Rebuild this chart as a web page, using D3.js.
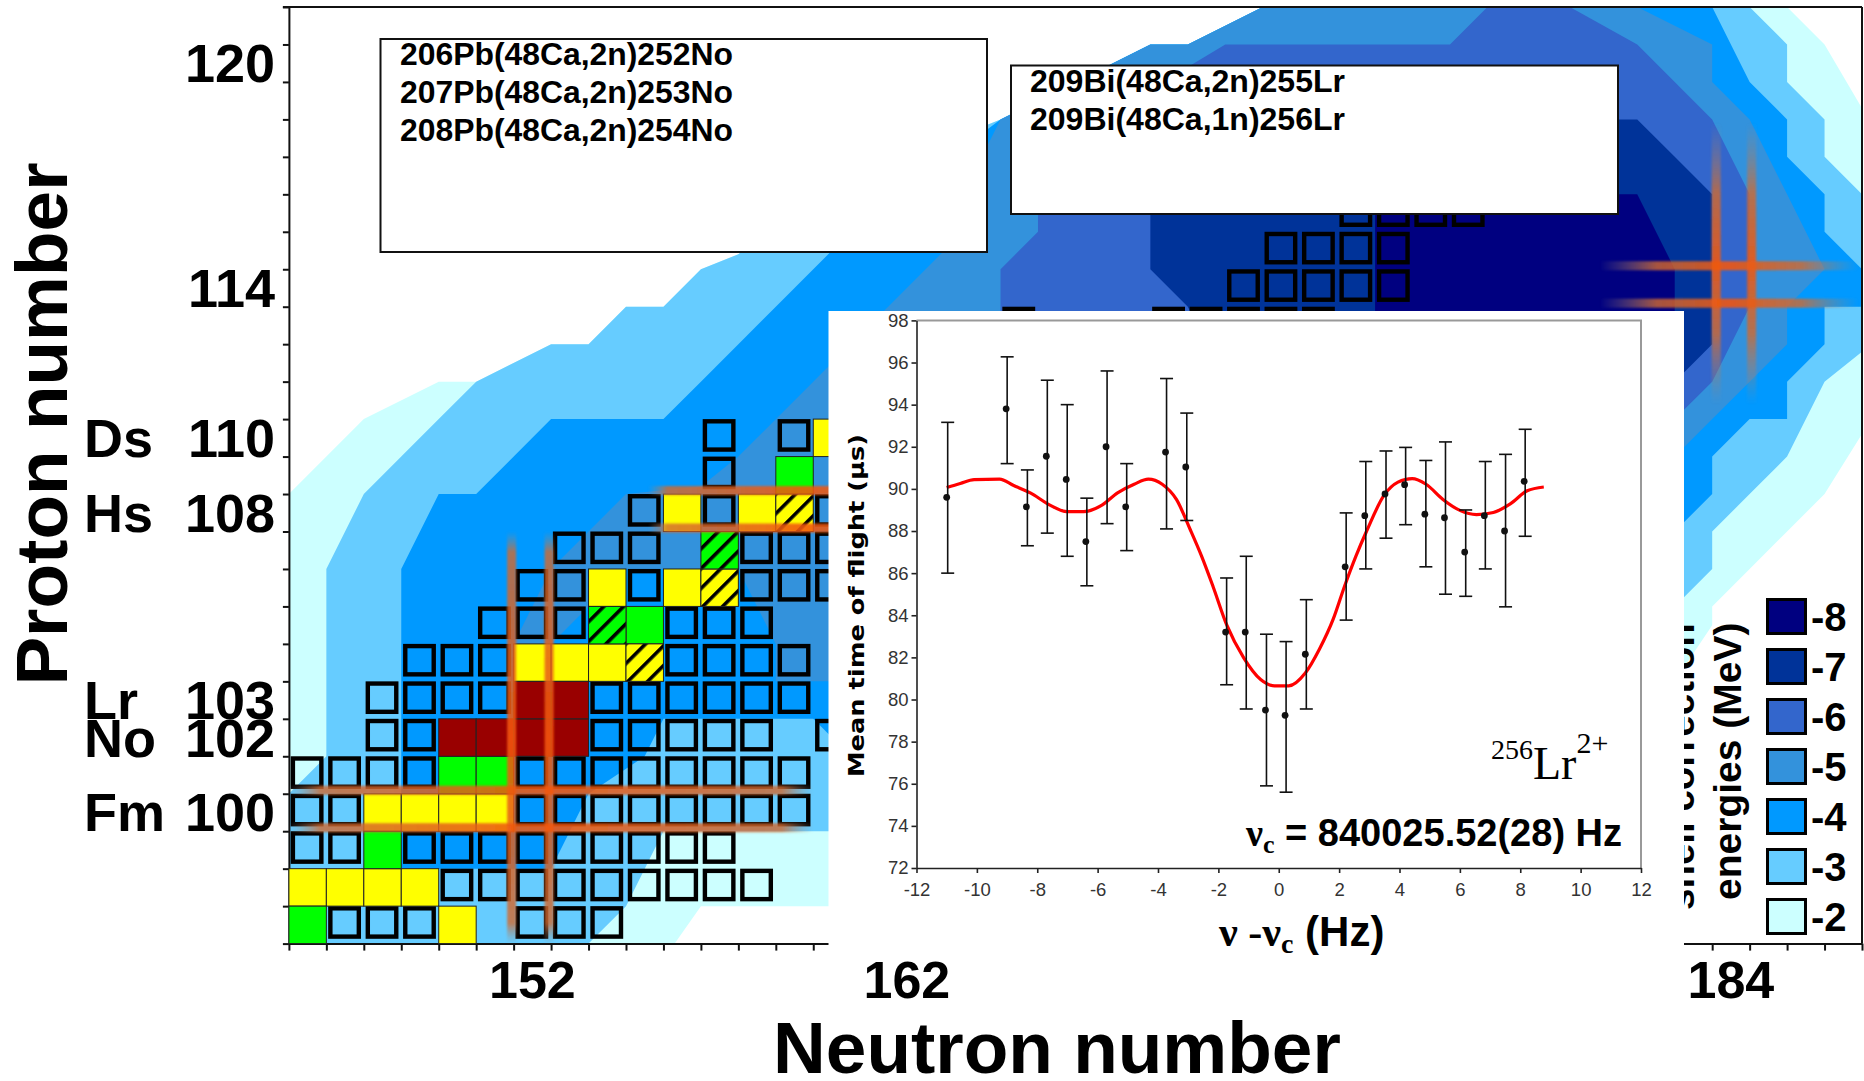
<!DOCTYPE html>
<html>
<head>
<meta charset="utf-8">
<script src="https://cdn.jsdelivr.net/npm/d3@7"></script>
<style>
  body { margin: 0; background: #fff; }
  svg { display: block; }
  text { font-family: "Liberation Sans", Arial, sans-serif; }
</style>
</head>
<body>
<svg width="1864" height="1081"></svg>
<script>
// shell correction contours, [neutron, proton]
const level2 = [[146,109],[147,110],[148,111],[150,112],[151,112],[153,113],[154,113],[155,114],[156,114],[157,115],[158,115.4],[160,117],[165,119],[167,120],[169,121],[170,121],[172,122],[186,122],[187,121],[188,119.3],[188,110.6],[187,109],[186,108],[185,107],[184,106],[184,105.5],[183,104],[161,98],[157,98],[156.3,97],[146,97]]
const level3 = [[146,101],[147,102],[147,107],[148,109],[149,110],[150,111],[151,112],[153,113],[154,113],[155,114],[156,114],[157,115],[158,115.4],[160,117],[165,119],[167,120],[169,121],[170,121],[172,122],[185,122],[186,121],[186,120],[187,119],[187,118],[188,117],[188,112.8],[187,112],[186,110],[185,109],[184,108],[184,107],[183,106],[161,100],[156,100],[155,98],[154,97],[146,97]]
const level4 = [[149,99],[149,107],[150,109],[151,109],[153,111],[156,111],[157,112],[158,113],[159,114],[160,115],[161,116],[165,119],[167,120],[169,121],[170,121],[172,122],[184,122],[185,120],[186,119],[186,118],[187,117],[187,116],[188,115],[188,114],[187,114],[187,113],[186,112],[186,111],[185,111],[184,110],[184,109],[183,108],[161,102],[160,103],[156,103],[155.5,102],[154,101],[153,99]]
const level5 = [[152,105],[153,105],[154,106],[155,107],[158,107],[159,105],[159,104],[161,104],[183,110],[184,111],[185,112],[186,113],[186,114],[187,115],[186,117],[185,119],[184,120],[184,121],[182,122],[172,122],[170,121],[169,121],[167,120],[165,119],[164.5,118],[164,116],[162,114],[160,112],[158,110],[157,109.2],[155,109],[153,107]]
const level6 = [[165,114],[165,115],[166,116],[166,117],[170,120.4],[171,121],[177,121],[178,122],[180.2,122],[182,121],[183,120],[184,119],[185,117],[185,114],[184,112],[183,111],[165,108]]
const level7 = [[169,115],[169,118],[170,119],[182,119],[183,118],[184,117],[184,113],[183,112],[171,112],[170,114]]
const level8 = [[175,117],[182,117],[183,115],[183,112],[175,112]]
const levelPolys = [level2, level3, level4, level5, level6, level7, level8]
const levelColors = ['#ccffff', '#66ccff', '#0099ff', '#3392dc', '#3366cc', '#003399', '#000080']
const legendLabels = ['-2', '-3', '-4', '-5', '-6', '-7', '-8']

// isotopes, [proton, [neutrons]]
const openRows = [
  [97, [147,148,149,152,153,154]],
  [98, [150,151,152,153,154,155,156,157,158]],
  [99, [146,147,149,150,151,152,153,154,155,156,157]],
  [100, [146,147,152,153,154,155,156,157,158,159]],
  [101, [146,147,148,149,152,153,154,155,156,157,158,159]],
  [102, [148,149,154,155,156,157,158,160]],
  [103, [148,149,150,151,154,155,156,157,158,159]],
  [104, [149,150,151,156,157,158,159]],
  [105, [151,152,153,156,157,158]],
  [106, [152,153,155,158,159,160]],
  [107, [153,154,155,158,159,160]],
  [108, [155,157,160]],
  [109, [157]],
  [110, [157,159]],
  [113, [165,169,170,171,172,173]],
  [114, [171,172,173,174,175]],
  [115, [172,173,174,175]],
  [116, [174,175,176,177]]
]
const yellowCells = [[146,98],[147,98],[148,98],[149,98],[150,97],[148,100],[149,100],[150,100],[151,100],[152,104],[153,104],[154,104],[154,106],[156,106],[156,108],[158,108],[160,110]]
const greenCells = [[146,97],[148,99],[150,101],[151,101],[155,105],[159,109]]
const redCells = [[150,102],[151,102],[152,102],[153,102],[152,103],[153,103]]
const yellowHatch = [[155,104],[157,106],[159,108]]
const greenHatch = [[154,105],[157,107]]

const protonLabels = [120, 114, 110, 108, 103, 102, 100]
const elementLabels = [['Ds', 110], ['Hs', 108], ['Lr', 103], ['No', 102], ['Fm', 100]]
const neutronLabels = [152, 162, 184]
const reactionsA = ['206Pb(48Ca,2n)252No', '207Pb(48Ca,2n)253No', '208Pb(48Ca,2n)254No']
const reactionsB = ['209Bi(48Ca,2n)255Lr', '209Bi(48Ca,1n)256Lr']

// inset: resonance of 256Lr2+
const detuning = [-11.0,-9.03,-8.36,-7.7,-7.04,-6.39,-5.72,-5.07,-3.75,-3.08,-1.76,-1.11,-0.44,0.21,0.88,2.2,2.85,3.52,4.17,4.84,5.49,6.16,6.81,7.48,8.13]
const tof = [89.6,93.8,89.15,91.55,90.45,87.5,92.0,89.15,91.75,91.04,83.2,83.2,79.5,79.25,82.15,86.3,88.73,89.76,90.2,88.8,88.63,87.0,88.73,88.0,90.36]
const tofHigh = [93.16,96.27,90.9,95.16,94.0,89.56,95.6,91.2,95.24,93.6,85.77,86.8,83.1,82.75,84.74,88.86,91.3,91.8,91.97,91.35,92.23,89.0,91.3,91.64,92.83]
const tofLow = [86.0,91.2,87.3,87.9,86.8,85.4,88.35,87.07,88.1,88.5,80.7,79.55,75.9,75.6,79.55,83.77,86.2,87.66,88.3,86.3,85.0,84.9,86.2,84.4,87.75]
const fitX = [-11.0,-10.55,-10.09,-9.25,-8.78,-8.23,-7.58,-7.02,-6.46,-5.9,-5.34,-4.79,-4.32,-3.86,-3.39,-2.93,-2.56,-2.18,-1.72,-1.16,-0.6,-0.14,0.33,0.88,1.35,1.81,2.18,2.56,2.93,3.49,3.95,4.42,4.88,5.44,6.0,6.55,7.11,7.67,8.23,8.78]
const fitY = [90.07,90.26,90.44,90.46,90.16,89.81,89.23,88.92,88.92,89.19,89.81,90.22,90.46,90.22,89.5,88.06,86.82,85.38,83.53,81.98,80.95,80.65,80.65,81.26,82.4,83.84,85.38,86.82,88.06,89.7,90.32,90.49,90.22,89.5,88.98,88.78,88.88,89.29,89.91,90.09]

let svg = d3.select('svg')

const x = d3.scaleLinear().domain([146, 188]).range([288.9, 1862])
const y = d3.scaleLinear().domain([97, 122]).range([943.6, 7])

// Gradients and hatches
const defs = svg.append('defs')
const fade = (id, vertical, edge) => {
  const g = defs.append('linearGradient').attr('id', id)
    .attr('x1', 0).attr('y1', 0).attr('x2', vertical ? 0 : 1).attr('y2', vertical ? 1 : 0)
  const stops = [[0, '#9a8a80', 0], [edge, '#d06a30', 0.8], [0.5, '#f4560a', 0.88], [1 - edge, '#d06a30', 0.8], [1, '#9a8a80', 0]]
  stops.forEach(s => g.append('stop').attr('offset', s[0]).attr('stop-color', s[1]).attr('stop-opacity', s[2]))
}
fade('fadeH', false, 0.06)
fade('fadeV', true, 0.05)
fade('fadeHShort', false, 0.22)
fade('fadeVShort', true, 0.25)
defs.append('filter').attr('id', 'soft').append('feGaussianBlur').attr('stdDeviation', 0.9)

const hatch = (id, color) => {
  const p = defs.append('pattern').attr('id', id).attr('patternUnits', 'userSpaceOnUse')
    .attr('width', 14).attr('height', 14).attr('patternTransform', 'rotate(45)')
  p.append('rect').attr('width', 14).attr('height', 14).attr('fill', color)
  p.append('rect').attr('width', 3.6).attr('height', 14).attr('fill', '#000')
}
hatch('hatchYellow', '#ffff00')
hatch('hatchGreen', '#00ff00')

// Contours
const polyLine = d3.line().x(d => x(d[0])).y(d => y(d[1]))
svg.append('g').selectAll('path').data(levelPolys).enter().append('path')
  .attr('d', d => polyLine(d) + 'Z')
  .attr('fill', (d, i) => levelColors[i])

// Outer axes
const xAxis = d3.axisBottom(x).tickValues(d3.range(146, 189)).tickFormat('').tickSize(7).tickSizeOuter(0)
const yAxis = d3.axisLeft(y).tickValues(d3.range(97, 123)).tickFormat('').tickSize(6).tickSizeOuter(0)
const gx = svg.append('g').attr('transform', `translate(0,${y(97)})`).call(xAxis)
const gy = svg.append('g').attr('transform', `translate(${x(146)},0)`).call(yAxis)
svg.selectAll('.domain, .tick line').attr('stroke', '#111').attr('stroke-width', 2)
svg.append('line').attr('x1', x(146) - 6).attr('x2', x(188)).attr('y1', y(122)).attr('y2', y(122)).attr('stroke', '#111').attr('stroke-width', 2)
svg.append('line').attr('x1', x(188)).attr('x2', x(188)).attr('y1', y(122)).attr('y2', y(97)).attr('stroke', '#111').attr('stroke-width', 2)

// Isotope cells
const cellW = x(147) - x(146)
const cellH = y(97) - y(98)
const openCells = openRows.flatMap(r => r[1].map(n => [n, r[0]]))
svg.append('g').selectAll('rect').data(openCells).enter().append('rect')
  .attr('x', d => x(d[0]) + 4)
  .attr('y', d => y(d[1] + 1) + 2.2)
  .attr('width', cellW - 9)
  .attr('height', cellH - 9.2)
  .attr('fill', 'none')
  .attr('stroke', '#000')
  .attr('stroke-width', 4.4)

const filled = [
  [yellowCells, '#ffff00'],
  [greenCells, '#00ff00'],
  [redCells, '#990000'],
  [yellowHatch, 'url(#hatchYellow)'],
  [greenHatch, 'url(#hatchGreen)']
]
filled.forEach(f => {
  svg.append('g').selectAll('rect').data(f[0]).enter().append('rect')
    .attr('x', d => x(d[0]))
    .attr('y', d => y(d[1] + 1))
    .attr('width', cellW)
    .attr('height', cellH)
    .attr('fill', f[1])
    .attr('stroke', '#222')
    .attr('stroke-width', 1)
})

// Magic number bands
const magic = svg.append('g').attr('filter', 'url(#soft)')
const bandV = (n, z0, z1, dx, paint) => magic.append('rect')
  .attr('x', x(n) + dx - 4.5).attr('width', 9)
  .attr('y', y(z1)).attr('height', y(z0) - y(z1))
  .attr('fill', paint)
const bandH = (z, n0, n1, paint) => magic.append('rect')
  .attr('x', x(n0)).attr('width', x(n1) - x(n0))
  .attr('y', y(z) - 3.5 - 4.5).attr('height', 9)
  .attr('fill', paint)
bandV(152, 97, 108, -2, 'url(#fadeV)')
bandV(153, 97, 108, -2, 'url(#fadeV)')
bandH(101, 146, 160, 'url(#fadeH)')
bandH(100, 146, 160, 'url(#fadeH)')
bandH(109, 155.6, 164, 'url(#fadeH)')
bandH(108, 155.6, 164, 'url(#fadeH)')
bandV(184, 111.4, 118.9, 4, 'url(#fadeVShort)')
bandV(185, 111.4, 118.9, 2, 'url(#fadeVShort)')
bandH(115, 181, 187.9, 'url(#fadeHShort)')
bandH(114, 181, 187.9, 'url(#fadeHShort)')

// Reaction boxes
const reactionBox = (bx, by, bw, bh, lines, tx, ty, tw) => {
  svg.append('rect').attr('x', bx).attr('y', by).attr('width', bw).attr('height', bh)
    .attr('fill', '#fff').attr('stroke', '#111').attr('stroke-width', 2)
  svg.append('g').selectAll('text').data(lines).enter().append('text')
    .attr('x', tx).attr('y', (d, i) => ty + i * 38)
    .attr('font-size', 31).attr('font-weight', 'bold')
    .attr('textLength', tw).attr('lengthAdjust', 'spacingAndGlyphs')
    .text(d => d)
}
reactionBox(380.5, 39, 606.5, 213, reactionsA, 400, 65, 333)
reactionBox(1011, 65.5, 607, 148.5, reactionsB, 1030, 92, 315)

// Outer labels
const big = (sel, size) => sel.attr('font-size', size).attr('font-weight', 'bold').attr('fill', '#000')
big(svg.append('g').selectAll('text').data(protonLabels).enter().append('text')
  .attr('x', 275).attr('y', d => y(d + 0.5) + 19).attr('text-anchor', 'end').text(d => d), 54)
big(svg.append('g').selectAll('text').data(elementLabels).enter().append('text')
  .attr('x', 84).attr('y', d => y(d[1] + 0.5) + 19).text(d => d[0]), 54)
big(svg.append('g').selectAll('text').data(neutronLabels).enter().append('text')
  .attr('x', d => x(d + 0.5)).attr('y', 998).attr('text-anchor', 'middle').text(d => d), 52)
big(svg.append('text').attr('x', 1057).attr('y', 1073).attr('text-anchor', 'middle').text('Neutron number'), 73)
big(svg.append('text').attr('transform', 'translate(67,424) rotate(-90)').attr('text-anchor', 'middle').text('Proton number'), 73)

// Legend
const legend = svg.append('g')
const legendY = d3.scalePoint().domain(legendLabels.slice().reverse()).range([598, 898])
legend.selectAll('rect').data(legendLabels).enter().append('rect')
  .attr('x', 1767.5).attr('y', d => legendY(d) + 1.5)
  .attr('width', 38).attr('height', 34)
  .attr('fill', (d, i) => levelColors[i])
  .attr('stroke', '#000').attr('stroke-width', 3)
big(legend.selectAll('text').data(legendLabels).enter().append('text')
  .attr('x', 1811).attr('y', d => legendY(d) + 33).text(d => d), 40)
big(svg.append('text').attr('transform', 'translate(1693.5,910) rotate(-90)').text('shell correction'), 38.5)
big(svg.append('text').attr('transform', 'translate(1741,900) rotate(-90)').text('energies (MeV)'), 39)

// Inset
svg.append('rect').attr('x', 828.5).attr('y', 311).attr('width', 855.5).attr('height', 649).attr('fill', '#fff')
const ix = d3.scaleLinear().domain([-12, 12]).range([916.5, 1641])
const iy = d3.scaleLinear().domain([72, 98]).range([868, 320.4])

svg.append('path').attr('d', `M${ix(-12)},${iy(98)}H${ix(12)}V${iy(72)}`)
  .attr('fill', 'none').attr('stroke', '#999').attr('stroke-width', 2)
const igx = svg.append('g').attr('transform', `translate(0,${iy(72)})`)
  .call(d3.axisBottom(ix).tickValues(d3.range(-12, 13, 2)).tickFormat(d => String(d)).tickSize(5).tickSizeOuter(0).tickPadding(10))
const igy = svg.append('g').attr('transform', `translate(${ix(-12)},0)`)
  .call(d3.axisLeft(iy).tickValues(d3.range(72, 99, 2)).tickSize(5).tickSizeOuter(0).tickPadding(3))
;[igx, igy].forEach(g => {
  g.selectAll('.domain, .tick line').attr('stroke', '#222').attr('stroke-width', 1.6)
  g.selectAll('text').attr('font-size', 18.5).attr('fill', '#333').attr('font-family', '"Liberation Sans", Arial, sans-serif')
})

const fit = d3.line().x(d => ix(d)).y((d, i) => iy(fitY[i])).curve(d3.curveMonotoneX)
svg.append('path').attr('d', fit(fitX)).attr('fill', 'none').attr('stroke', '#ff0000').attr('stroke-width', 3.2)

const bars = svg.append('g').attr('stroke', '#111').attr('stroke-width', 1.6)
bars.selectAll('.stem').data(detuning).enter().append('line').attr('class', 'stem')
  .attr('x1', d => ix(d) + 1).attr('x2', d => ix(d) + 1)
  .attr('y1', (d, i) => iy(tofHigh[i])).attr('y2', (d, i) => iy(tofLow[i]))
bars.selectAll('.capTop').data(detuning).enter().append('line').attr('class', 'capTop')
  .attr('x1', d => ix(d) - 5.5).attr('x2', d => ix(d) + 7.5)
  .attr('y1', (d, i) => iy(tofHigh[i])).attr('y2', (d, i) => iy(tofHigh[i]))
bars.selectAll('.capLow').data(detuning).enter().append('line').attr('class', 'capLow')
  .attr('x1', d => ix(d) - 5.5).attr('x2', d => ix(d) + 7.5)
  .attr('y1', (d, i) => iy(tofLow[i])).attr('y2', (d, i) => iy(tofLow[i]))
svg.append('g').selectAll('circle').data(detuning).enter().append('circle')
  .attr('cx', d => ix(d)).attr('cy', (d, i) => iy(tof[i])).attr('r', 3.4).attr('fill', '#111')

// Inset titles
svg.append('text').attr('transform', 'translate(864,605.5) rotate(-90)')
  .attr('text-anchor', 'middle')
  .style('font-family', '"DejaVu Sans", sans-serif')
  .attr('font-size', 22).attr('font-weight', 'bold')
  .attr('textLength', 343).attr('lengthAdjust', 'spacingAndGlyphs')
  .text('Mean time of flight (μs)')

const serif = '"Liberation Serif", "Times New Roman", serif'
const xTitle = svg.append('text').attr('x', 1219).attr('y', 946).attr('font-weight', 'bold').attr('font-size', 42)
xTitle.append('tspan').style('font-family', serif).text('ν -ν')
xTitle.append('tspan').style('font-family', serif).attr('font-size', 28).attr('dy', 7).text('c')
xTitle.append('tspan').attr('dy', -7).text(' (Hz)')

const lr = svg.append('text').attr('x', 1491).attr('y', 779).style('font-family', serif).attr('font-size', 46)
lr.append('tspan').attr('font-size', 28).attr('dy', -20).text('256')
lr.append('tspan').attr('dy', 20).text('Lr')
lr.append('tspan').attr('font-size', 30).attr('dy', -26).text('2+')

const nuC = svg.append('text').attr('x', 1246).attr('y', 845.5).attr('font-weight', 'bold').attr('font-size', 38)
nuC.append('tspan').style('font-family', serif).text('ν')
nuC.append('tspan').style('font-family', serif).attr('font-size', 26).attr('dy', 7).text('c')
nuC.append('tspan').attr('dy', -7).text(' = 840025.52(28) Hz')
</script>
</body>
</html>
